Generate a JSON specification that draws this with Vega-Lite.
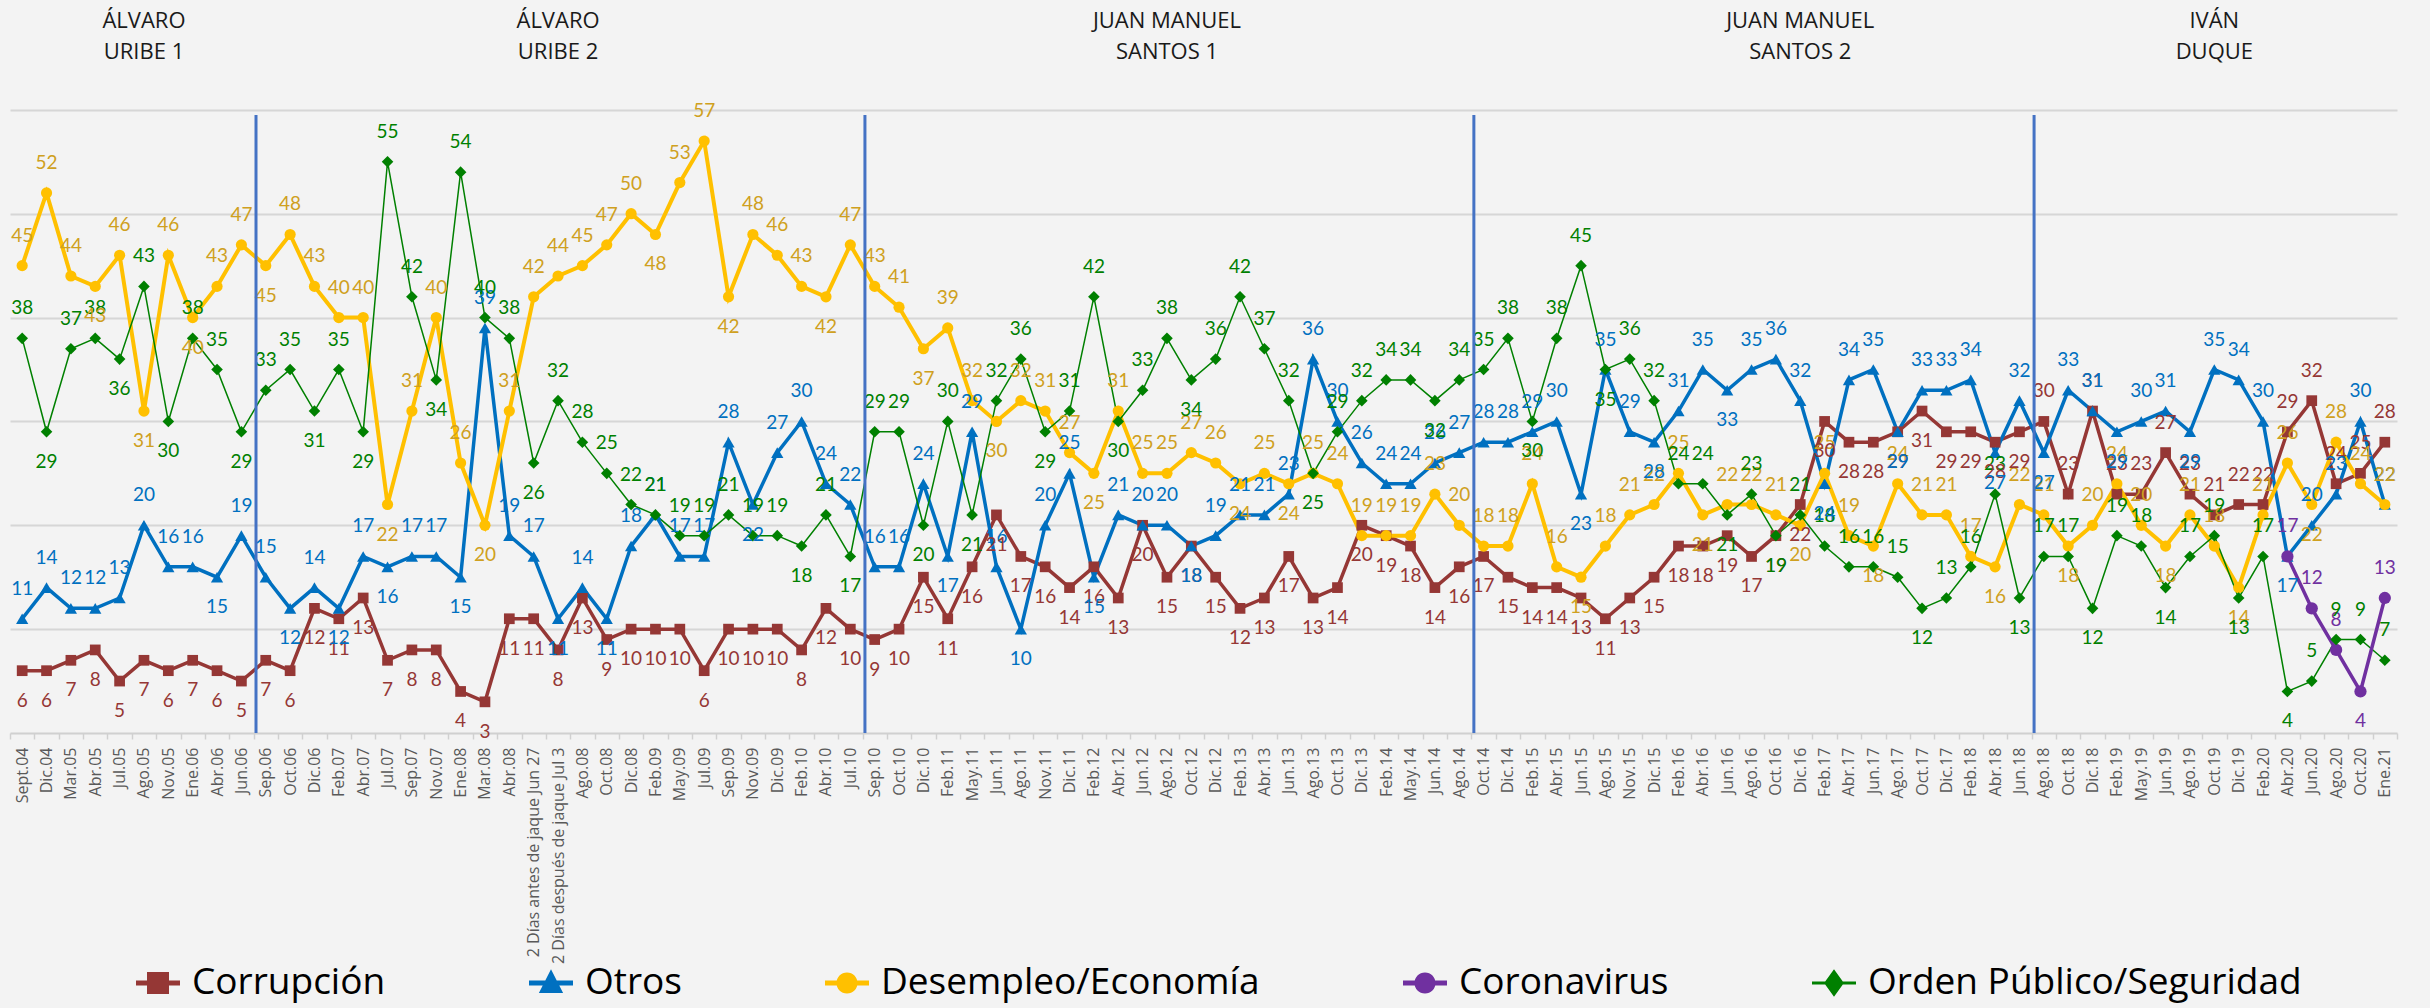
{
  "$schema": "https://vega.github.io/schema/vega-lite/v6.json",
  "width": 2387,
  "height": 727,
  "autosize": {"type": "none"},
  "padding": {"left": 10, "top": 6, "right": 33, "bottom": 275},
  "background": "#F3F3F3",
  "config": {"view": {"stroke": null}, "font": "Open Sans"},
  "data": {
    "values": [
      {"d": "Sept.04", "p": "U1", "C": 6, "O": 11, "D": 45, "P": 38},
      {"d": "Dic.04", "p": "U1", "C": 6, "O": 14, "D": 52, "P": 29},
      {"d": "Mar.05", "p": "U1", "C": 7, "O": 12, "D": 44, "P": 37},
      {"d": "Abr.05", "p": "U1", "C": 8, "O": 12, "D": 43, "P": 38},
      {"d": "Jul.05", "p": "U1", "C": 5, "O": 13, "D": 46, "P": 36},
      {"d": "Ago.05", "p": "U1", "C": 7, "O": 20, "D": 31, "P": 43},
      {"d": "Nov.05", "p": "U1", "C": 6, "O": 16, "D": 46, "P": 30},
      {"d": "Ene.06", "p": "U1", "C": 7, "O": 16, "D": 40, "P": 38},
      {"d": "Abr.06", "p": "U1", "C": 6, "O": 15, "D": 43, "P": 35},
      {"d": "Jun.06", "p": "U1", "C": 5, "O": 19, "D": 47, "P": 29},
      {"d": "Sep.06", "p": "U2", "C": 7, "O": 15, "D": 45, "P": 33},
      {"d": "Oct.06", "p": "U2", "C": 6, "O": 12, "D": 48, "P": 35},
      {"d": "Dic.06", "p": "U2", "C": 12, "O": 14, "D": 43, "P": 31},
      {"d": "Feb.07", "p": "U2", "C": 11, "O": 12, "D": 40, "P": 35},
      {"d": "Abr.07", "p": "U2", "C": 13, "O": 17, "D": 40, "P": 29},
      {"d": "Jul.07", "p": "U2", "C": 7, "O": 16, "D": 22, "P": 55},
      {"d": "Sep.07", "p": "U2", "C": 8, "O": 17, "D": 31, "P": 42},
      {"d": "Nov.07", "p": "U2", "C": 8, "O": 17, "D": 40, "P": 34},
      {"d": "Ene.08", "p": "U2", "C": 4, "O": 15, "D": 26, "P": 54},
      {"d": "Mar.08", "p": "U2", "C": 3, "O": 39, "D": 20, "P": 40},
      {"d": "Abr.08", "p": "U2", "C": 11, "O": 19, "D": 31, "P": 38},
      {"d": "2 Días antes de jaque Jun 27", "p": "U2", "C": 11, "O": 17, "D": 42, "P": 26},
      {"d": "2 Días después de jaque Jul 3", "p": "U2", "C": 8, "O": 11, "D": 44, "P": 32},
      {"d": "Ago.08", "p": "U2", "C": 13, "O": 14, "D": 45, "P": 28},
      {"d": "Oct.08", "p": "U2", "C": 9, "O": 11, "D": 47, "P": 25},
      {"d": "Dic.08", "p": "U2", "C": 10, "O": 18, "D": 50, "P": 22},
      {"d": "Feb.09", "p": "U2", "C": 10, "O": 21, "D": 48, "P": 21},
      {"d": "May.09", "p": "U2", "C": 10, "O": 17, "D": 53, "P": 19},
      {"d": "Jul.09", "p": "U2", "C": 6, "O": 17, "D": 57, "P": 19},
      {"d": "Sep.09", "p": "U2", "C": 10, "O": 28, "D": 42, "P": 21},
      {"d": "Nov.09", "p": "U2", "C": 10, "O": 22, "D": 48, "P": 19},
      {"d": "Dic.09", "p": "U2", "C": 10, "O": 27, "D": 46, "P": 19},
      {"d": "Feb.10", "p": "U2", "C": 8, "O": 30, "D": 43, "P": 18},
      {"d": "Abr.10", "p": "U2", "C": 12, "O": 24, "D": 42, "P": 21},
      {"d": "Jul.10", "p": "U2", "C": 10, "O": 22, "D": 47, "P": 17},
      {"d": "Sep.10", "p": "S1", "C": 9, "O": 16, "D": 43, "P": 29},
      {"d": "Oct.10", "p": "S1", "C": 10, "O": 16, "D": 41, "P": 29},
      {"d": "Dic.10", "p": "S1", "C": 15, "O": 24, "D": 37, "P": 20},
      {"d": "Feb.11", "p": "S1", "C": 11, "O": 17, "D": 39, "P": 30},
      {"d": "May.11", "p": "S1", "C": 16, "O": 29, "D": 32, "P": 21},
      {"d": "Jun.11", "p": "S1", "C": 21, "O": 16, "D": 30, "P": 32},
      {"d": "Ago.11", "p": "S1", "C": 17, "O": 10, "D": 32, "P": 36},
      {"d": "Nov.11", "p": "S1", "C": 16, "O": 20, "D": 31, "P": 29},
      {"d": "Dic.11", "p": "S1", "C": 14, "O": 25, "D": 27, "P": 31},
      {"d": "Feb.12", "p": "S1", "C": 16, "O": 15, "D": 25, "P": 42},
      {"d": "Abr.12", "p": "S1", "C": 13, "O": 21, "D": 31, "P": 30},
      {"d": "Jun.12", "p": "S1", "C": 20, "O": 20, "D": 25, "P": 33},
      {"d": "Ago.12", "p": "S1", "C": 15, "O": 20, "D": 25, "P": 38},
      {"d": "Oct.12", "p": "S1", "C": 18, "O": 18, "D": 27, "P": 34},
      {"d": "Dic.12", "p": "S1", "C": 15, "O": 19, "D": 26, "P": 36},
      {"d": "Feb.13", "p": "S1", "C": 12, "O": 21, "D": 24, "P": 42},
      {"d": "Abr.13", "p": "S1", "C": 13, "O": 21, "D": 25, "P": 37},
      {"d": "Jun.13", "p": "S1", "C": 17, "O": 23, "D": 24, "P": 32},
      {"d": "Ago.13", "p": "S1", "C": 13, "O": 36, "D": 25, "P": 25},
      {"d": "Oct.13", "p": "S1", "C": 14, "O": 30, "D": 24, "P": 29},
      {"d": "Dic.13", "p": "S1", "C": 20, "O": 26, "D": 19, "P": 32},
      {"d": "Feb.14", "p": "S1", "C": 19, "O": 24, "D": 19, "P": 34},
      {"d": "May.14", "p": "S1", "C": 18, "O": 24, "D": 19, "P": 34},
      {"d": "Jun.14", "p": "S1", "C": 14, "O": 26, "D": 23, "P": 32},
      {"d": "Ago.14", "p": "S1", "C": 16, "O": 27, "D": 20, "P": 34},
      {"d": "Oct.14", "p": "S2", "C": 17, "O": 28, "D": 18, "P": 35},
      {"d": "Dic.14", "p": "S2", "C": 15, "O": 28, "D": 18, "P": 38},
      {"d": "Feb.15", "p": "S2", "C": 14, "O": 29, "D": 24, "P": 30},
      {"d": "Abr.15", "p": "S2", "C": 14, "O": 30, "D": 16, "P": 38},
      {"d": "Jun.15", "p": "S2", "C": 13, "O": 23, "D": 15, "P": 45},
      {"d": "Ago.15", "p": "S2", "C": 11, "O": 35, "D": 18, "P": 35},
      {"d": "Nov.15", "p": "S2", "C": 13, "O": 29, "D": 21, "P": 36},
      {"d": "Dic.15", "p": "S2", "C": 15, "O": 28, "D": 22, "P": 32},
      {"d": "Feb.16", "p": "S2", "C": 18, "O": 31, "D": 25, "P": 24},
      {"d": "Abr.16", "p": "S2", "C": 18, "O": 35, "D": 21, "P": 24},
      {"d": "Jun.16", "p": "S2", "C": 19, "O": 33, "D": 22, "P": 21},
      {"d": "Ago.16", "p": "S2", "C": 17, "O": 35, "D": 22, "P": 23},
      {"d": "Oct.16", "p": "S2", "C": 19, "O": 36, "D": 21, "P": 19},
      {"d": "Dic.16", "p": "S2", "C": 22, "O": 32, "D": 20, "P": 21},
      {"d": "Feb.17", "p": "S2", "C": 30, "O": 24, "D": 25, "P": 18},
      {"d": "Abr.17", "p": "S2", "C": 28, "O": 34, "D": 19, "P": 16},
      {"d": "Jun.17", "p": "S2", "C": 28, "O": 35, "D": 18, "P": 16},
      {"d": "Ago.17", "p": "S2", "C": 29, "O": 29, "D": 24, "P": 15},
      {"d": "Oct.17", "p": "S2", "C": 31, "O": 33, "D": 21, "P": 12},
      {"d": "Dic.17", "p": "S2", "C": 29, "O": 33, "D": 21, "P": 13},
      {"d": "Feb.18", "p": "S2", "C": 29, "O": 34, "D": 17, "P": 16},
      {"d": "Abr.18", "p": "S2", "C": 28, "O": 27, "D": 16, "P": 23},
      {"d": "Jun.18", "p": "S2", "C": 29, "O": 32, "D": 22, "P": 13},
      {"d": "Ago.18", "p": "ID", "C": 30, "O": 27, "D": 21, "P": 17},
      {"d": "Oct.18", "p": "ID", "C": 23, "O": 33, "D": 18, "P": 17},
      {"d": "Dic.18", "p": "ID", "C": 31, "O": 31, "D": 20, "P": 12},
      {"d": "Feb.19", "p": "ID", "C": 23, "O": 29, "D": 24, "P": 19},
      {"d": "May.19", "p": "ID", "C": 23, "O": 30, "D": 20, "P": 18},
      {"d": "Jun.19", "p": "ID", "C": 27, "O": 31, "D": 18, "P": 14},
      {"d": "Ago.19", "p": "ID", "C": 23, "O": 29, "D": 21, "P": 17},
      {"d": "Oct.19", "p": "ID", "C": 21, "O": 35, "D": 18, "P": 19},
      {"d": "Dic.19", "p": "ID", "C": 22, "O": 34, "D": 14, "P": 13},
      {"d": "Feb.20", "p": "ID", "C": 22, "O": 30, "D": 21, "P": 17},
      {"d": "Abr.20", "p": "ID", "C": 29, "O": 17, "D": 26, "P": 4, "V": 17},
      {"d": "Jun.20", "p": "ID", "C": 32, "O": 20, "D": 22, "P": 5, "V": 12},
      {"d": "Ago.20", "p": "ID", "C": 24, "O": 23, "D": 28, "P": 9, "V": 8},
      {"d": "Oct.20", "p": "ID", "C": 25, "O": 30, "D": 24, "P": 9, "V": 4},
      {"d": "Ene.21", "p": "ID", "C": 28, "O": 22, "D": 22, "P": 7, "V": 13}
    ]
  },
  "transform": [
    {"window": [{"op": "row_number", "as": "i"}]},
    {"window": [{"op": "row_number", "as": "prn"}, {"op": "count", "as": "pc"}], "groupby": ["p"], "sort": [{"field": "i", "order": "ascending"}], "frame": [null, null]},
    {"fold": ["C", "O", "D", "V", "P"], "as": ["k", "v"]},
    {"filter": "isValid(datum.v)"},
    {"window": [{"op": "lag", "field": "v", "as": "pv"}, {"op": "lead", "field": "v", "as": "nv"}], "groupby": ["k"], "sort": [{"field": "i", "order": "ascending"}]},
    {"calculate": "datum.k==='C' ? 'Corrupción' : datum.k==='O' ? 'Otros' : datum.k==='D' ? 'Desempleo/Economía' : datum.k==='V' ? 'Coronavirus' : 'Orden Público/Seguridad'", "as": "s"},
    {"calculate": "datum.k==='C' ? (datum.p==='ID' ? 'a' : 'b') : ((isValid(datum.pv) && isValid(datum.nv) && datum.v < datum.pv && datum.v < datum.nv) ? 'b' : 'a')", "as": "pos"},
    {"calculate": "datum.pos==='a' ? format(datum.v, 'd') : ''", "as": "la"},
    {"calculate": "datum.pos==='b' ? format(datum.v, 'd') : ''", "as": "lb"},
    {"calculate": "(datum.k==='C' && datum.prn===(datum.p==='S2' ? 14 : ceil((datum.pc+1)/2))) ? (datum.p==='U1' ? 'ÁLVARO\\nURIBE 1' : datum.p==='U2' ? 'ÁLVARO\\nURIBE 2' : datum.p==='S1' ? 'JUAN MANUEL\\nSANTOS 1' : datum.p==='S2' ? 'JUAN MANUEL\\nSANTOS 2' : 'IVÁN\\nDUQUE') : ''", "as": "tt"},
    {"calculate": "(datum.k==='C' && datum.prn===1 && datum.p!=='U1') ? 1 : 0", "as": "cut"}
  ],
  "encoding": {
    "x": {
      "field": "d", "type": "nominal",
      "sort": {"field": "i", "op": "min"},
      "scale": {"type": "band", "paddingInner": 0, "paddingOuter": 0},
      "axis": {
        "title": null, "labelAngle": -90, "labelAlign": "right", "labelBaseline": "middle",
        "labelFont": "Open Sans", "labelFontSize": 16, "labelColor": "#595959",
        "labelPadding": 8, "labelOverlap": false, "labelLimit": 400,
        "tickBand": "extent", "tickSize": 6, "tickColor": "#D0D0D0", "tickWidth": 1.5,
        "domainColor": "#D0D0D0", "domainWidth": 2, "grid": false
      }
    },
    "y": {
      "field": "v", "type": "quantitative",
      "scale": {"domain": [0, 70], "nice": false, "zero": true},
      "axis": {"title": null, "labels": false, "ticks": false, "domain": false, "grid": true, "values": [10, 20, 30, 40, 50, 60], "gridColor": "#D6D6D6", "gridWidth": 2}
    }
  },
  "layer": [
    {
      "mark": {"type": "line", "interpolate": "linear"},
      "encoding": {
        "color": {
          "field": "s", "type": "nominal",
          "scale": {"domain": ["Corrupción", "Otros", "Desempleo/Economía", "Coronavirus", "Orden Público/Seguridad"], "range": ["#953735", "#0070C0", "#FFC000", "#7030A0", "#008000"]},
          "legend": {
            "orient": "none", "legendX": 126, "legendY": 955, "direction": "horizontal",
            "title": null, "padding": 0, "labelFont": "Open Sans", "labelFontSize": 37, "labelColor": "#000000",
            "labelOffset": 12, "columnPadding": 143, "symbolSize": 1936, "labelLimit": 600,
            "symbolType": "square",
            "encode": {
              "symbols": {
                "update": {
                  "shape": {"signal": "datum.value === 'Corrupción' ? 'M-1,-0.11H1V0.11H-1Z M-0.5,-0.5H0.5V0.5H-0.5Z' : datum.value === 'Otros' ? 'M-1,-0.11H1V0.11H-1Z M0,-0.62L0.55,0.45H-0.55Z' : datum.value === 'Orden Público/Seguridad' ? 'M-1,-0.07H1V0.07H-1Z M0,-0.62L0.45,0L0,0.62L-0.45,0Z' : 'M-1,-0.11H1V0.11H-1Z M-0.48,0A0.48,0.48 0 1,1 0.48,0A0.48,0.48 0 1,1 -0.48,0Z'"},
                  "size": {"value": 1936},
                  "fill": {"signal": "scale('color', datum.value)"},
                  "stroke": {"value": "transparent"},
                  "strokeWidth": {"value": 0},
                  "opacity": {"value": 1}
                }
              }
            }
          }
        },
        "strokeWidth": {
          "field": "k", "type": "nominal",
          "scale": {"type": "ordinal", "domain": ["C", "O", "D", "V", "P"], "range": [3.5, 3.5, 4, 3.5, 1.5]},
          "legend": null
        },
        "order": {"field": "i", "type": "quantitative"}
      }
    },
    {
      "mark": {"type": "point", "filled": true, "opacity": 1},
      "encoding": {
        "color": {"field": "s", "type": "nominal", "legend": null},
        "shape": {
          "field": "k", "type": "nominal",
          "scale": {"domain": ["C", "O", "D", "V", "P"], "range": ["square", "triangle-up", "circle", "circle", "diamond"]},
          "legend": null
        },
        "size": {
          "field": "k", "type": "nominal",
          "scale": {"type": "ordinal", "domain": ["C", "O", "D", "V", "P"], "range": [115, 150, 125, 150, 135]},
          "legend": null
        }
      }
    },
    {
      "mark": {"type": "text", "dy": -30, "font": "Lato", "fontSize": 19, "baseline": "middle", "align": "center"},
      "encoding": {
        "text": {"field": "la", "type": "nominal"},
        "fill": {
          "field": "k", "type": "nominal",
          "scale": {"domain": ["C", "O", "D", "V", "P"], "range": ["#953735", "#0070C0", "#CFA020", "#7030A0", "#008000"]},
          "legend": null
        }
      }
    },
    {
      "mark": {"type": "text", "dy": 30, "font": "Lato", "fontSize": 19, "baseline": "middle", "align": "center"},
      "encoding": {
        "text": {"field": "lb", "type": "nominal"},
        "fill": {"field": "k", "type": "nominal", "legend": null}
      }
    },
    {
      "mark": {"type": "rule", "color": "#4472C4", "strokeWidth": 3},
      "encoding": {
        "x": {"field": "d", "type": "nominal", "sort": {"field": "i", "op": "min"}, "bandPosition": 0.1},
        "y": {"datum": 0},
        "y2": {"datum": 59.5},
        "strokeOpacity": {"condition": {"test": "datum.cut === 1", "value": 1}, "value": 0}
      }
    },
    {
      "mark": {"type": "text", "font": "Open Sans", "fontSize": 22, "baseline": "top", "align": "center", "lineBreak": "\n", "lineHeight": 31, "color": "#1A1A1A"},
      "encoding": {
        "y": {"datum": 69.5},
        "text": {"field": "tt", "type": "nominal"}
      }
    }
  ]
}
